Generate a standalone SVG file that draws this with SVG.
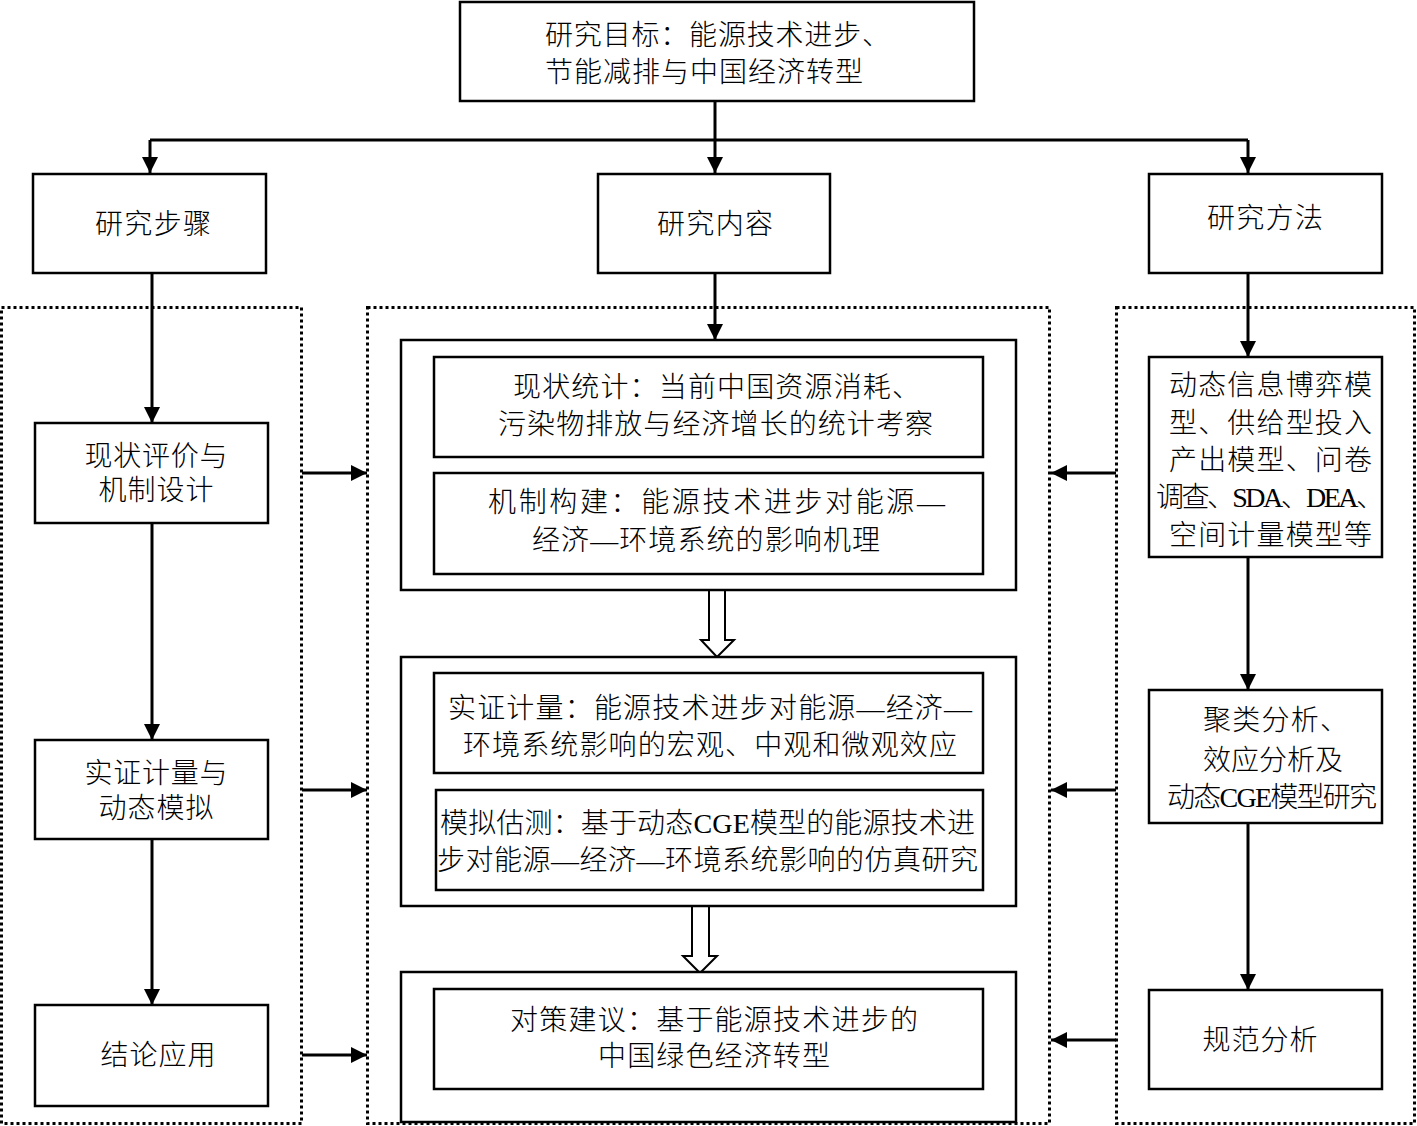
<svg xmlns="http://www.w3.org/2000/svg" width="1417" height="1126" viewBox="0 0 1417 1126">
<defs>
<marker id="ah" markerUnits="userSpaceOnUse" markerWidth="16" markerHeight="16" viewBox="0 0 16 16" refX="16" refY="8" orient="auto">
<path d="M0,0 L16,8 L0,16 Z" fill="#000"/>
</marker>
</defs>
<style>
.box{fill:#fff;stroke:#000;stroke-width:2.5}
.dot{fill:none;stroke:#000;stroke-width:3;stroke-dasharray:3 3}
.ln{fill:none;stroke:#000;stroke-width:3}
.ar{fill:none;stroke:#000;stroke-width:3;marker-end:url(#ah)}
.hol{fill:#fff;stroke:#000;stroke-width:2}
text{font-family:"Liberation Serif","Noto Sans CJK SC",serif;font-size:28px;font-weight:300;fill:#000}
.m{text-anchor:middle}
</style>
<rect width="1417" height="1126" fill="#fff"/>

<g id="containers">
<rect class="dot" x="1.5" y="307.5" width="300" height="816"/>
<rect class="dot" x="367.5" y="307.5" width="682" height="816"/>
<rect class="dot" x="1116.5" y="307.5" width="298" height="816"/>
</g>

<g id="connectors">
<path class="ar" d="M715,101 V173"/>
<path class="ln" d="M150,140 H1248"/>
<path class="ar" d="M150,140 V173"/>
<path class="ar" d="M1248,140 V173"/>
<path class="ar" d="M152,273 V423"/>
<path class="ar" d="M152,523 V740"/>
<path class="ar" d="M152,839 V1005"/>
<path class="ar" d="M302,473 H367"/>
<path class="ar" d="M302,790 H367"/>
<path class="ar" d="M302,1055 H367"/>
<path class="ar" d="M715,273 V340"/>
<path class="ar" d="M1248,273 V357"/>
<path class="ar" d="M1248,557 V690"/>
<path class="ar" d="M1248,823 V990"/>
<path class="ar" d="M1116,473 H1051"/>
<path class="ar" d="M1116,790 H1051"/>
<path class="ar" d="M1116,1040 H1051"/>
<path class="hol" d="M709,590 H725 V640 H734 L717,657 L701,640 H709 Z"/>
<path class="hol" d="M692,906 H709 V956 H717 L700,973 L683,956 H692 Z"/>
</g>

<g id="goal">
<rect class="box" x="460" y="2" width="514" height="99"/>
<text x="545" y="45" textLength="345">研究目标：能源技术进步、</text>
<text x="545" y="82" textLength="318">节能减排与中国经济转型</text>
</g>

<g id="steps">
<rect class="box" x="33" y="174" width="233" height="99"/>
<text class="m" x="153" y="234" textLength="116">研究步骤</text>
</g>
<g id="content">
<rect class="box" x="598" y="174" width="232" height="99"/>
<text class="m" x="715" y="234" textLength="116">研究内容</text>
</g>
<g id="methods">
<rect class="box" x="1149" y="174" width="233" height="99"/>
<text class="m" x="1265" y="228" textLength="116">研究方法</text>
</g>

<g id="step1">
<rect class="box" x="35" y="423" width="233" height="100"/>
<text class="m" x="156" y="466" textLength="143">现状评价与</text>
<text class="m" x="156" y="500" textLength="115">机制设计</text>
</g>
<g id="step2">
<rect class="box" x="35" y="740" width="233" height="99"/>
<text class="m" x="156" y="783" textLength="143">实证计量与</text>
<text class="m" x="156" y="818" textLength="115">动态模拟</text>
</g>
<g id="step3">
<rect class="box" x="35" y="1005" width="233" height="101"/>
<text class="m" x="158" y="1065" textLength="115">结论应用</text>
</g>

<g id="content1">
<rect class="box" x="401" y="340" width="615" height="250"/>
<g id="c1a">
<rect class="box" x="434" y="357" width="549" height="100"/>
<text x="513" y="397" textLength="407">现状统计：当前中国资源消耗、</text>
<text x="498" y="434" textLength="435">污染物排放与经济增长的统计考察</text>
</g>
<g id="c1b">
<rect class="box" x="434" y="473" width="549" height="101"/>
<text x="488" y="512" textLength="457">机制构建：能源技术进步对能源—</text>
<text x="532" y="550" textLength="348">经济—环境系统的影响机理</text>
</g>
</g>

<g id="content2">
<rect class="box" x="401" y="657" width="615" height="249"/>
<g id="c2a">
<rect class="box" x="434" y="673" width="549" height="100"/>
<text x="448" y="718" textLength="524">实证计量：能源技术进步对能源—经济—</text>
<text x="463" y="755" textLength="494">环境系统影响的宏观、中观和微观效应</text>
</g>
<g id="c2b">
<rect class="box" x="436" y="790" width="547" height="100"/>
<text x="440" y="833" textLength="535">模拟估测：基于动态CGE模型的能源技术进</text>
<text x="437" y="870" textLength="541">步对能源—经济—环境系统影响的仿真研究</text>
</g>
</g>

<g id="content3">
<rect class="box" x="401" y="972" width="615" height="150"/>
<g id="c3a">
<rect class="box" x="434" y="989" width="549" height="100"/>
<text x="510" y="1030" textLength="408">对策建议：基于能源技术进步的</text>
<text x="598" y="1066" textLength="232">中国绿色经济转型</text>
</g>
</g>

<g id="method1">
<rect class="box" x="1149" y="357" width="233" height="200"/>
<text x="1169" y="395" textLength="203">动态信息博弈模</text>
<text x="1169" y="433" textLength="203">型、供给型投入</text>
<text x="1169" y="470" textLength="203">产出模型、问卷</text>
<text x="1156" y="507" textLength="228">调查、SDA、DEA、</text>
<text x="1169" y="545" textLength="203">空间计量模型等</text>
</g>
<g id="method2">
<rect class="box" x="1149" y="690" width="233" height="133"/>
<text x="1203" y="730" textLength="145">聚类分析、</text>
<text x="1203" y="770" textLength="140">效应分析及</text>
<text x="1167" y="807" textLength="210">动态CGE模型研究</text>
</g>
<g id="method3">
<rect class="box" x="1149" y="990" width="233" height="99"/>
<text class="m" x="1260" y="1050" textLength="115">规范分析</text>
</g>
</svg>
